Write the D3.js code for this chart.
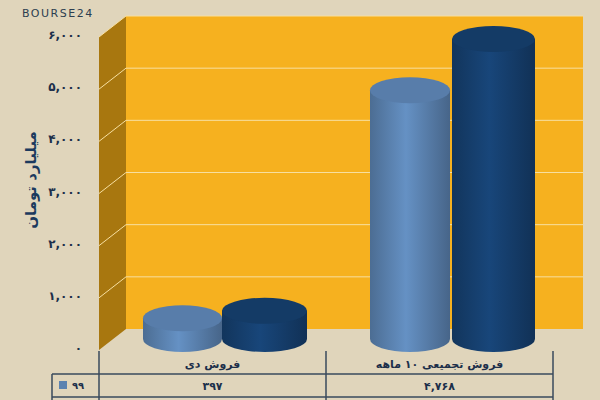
<!DOCTYPE html>
<html><head><meta charset="utf-8">
<script src="https://cdn.jsdelivr.net/npm/d3@7"></script>
<style>body{margin:0;background:#e0d5bb}svg{display:block;font-family:"DejaVu Sans",sans-serif}</style>
</head><body><svg id="c" width="600" height="400"></svg>
<script>
const categories = ["فروش دی", "فروش تجمیعی ۱۰ ماهه"];
const seriesNames = ["۹۹", "۱۴۰۰"];
const values99 = [397, 4768];
const values1400 = [540, 5750];
const yTicks = [0, 1000, 2000, 3000, 4000, 5000, 6000];
const colors = ["#5b82b0", "#163f6e"];

const fa = (n) => String(n).replace(/\d/g, (d) => "۰۱۲۳۴۵۶۷۸۹"[d]);
const fmt = (n) => fa(d3.format(",")(n));

const svg = d3.select("#c");
const dx = 27, dy = -21;                 // depth offset of back wall
const x0 = 99, x1 = 553;
const y = d3.scaleLinear().domain([0, 6000]).range([350, 37]);
const x = d3.scaleBand().domain(categories).range([x0, x1]);

// left wall
svg.append("polygon")
  .attr("points", [[x0, y(0)], [x0, y(6000)], [x0 + dx, y(6000) + dy], [x0 + dx, y(0) + dy]].join(" "))
  .attr("fill", "#a8770f");
// back wall
svg.append("rect").attr("x", x0 + dx).attr("y", y(6000) + dy)
  .attr("width", 583 - x0 - dx).attr("height", y(0) - y(6000)).attr("fill", "#f6b11f");

// gridlines
const g = svg.append("g");
yTicks.slice(1).forEach((t) => {
  g.append("polyline")
    .attr("points", [[x0, y(t)], [x0 + dx, y(t) + dy], [583, y(t) + dy]].join(" "))
    .attr("fill", "none").attr("stroke", "#f7dfa0").attr("stroke-width", 1);
});

// y labels
svg.append("g").selectAll("text").data(yTicks).join("text")
  .attr("x", 82).attr("y", (d) => y(d) + 2).attr("text-anchor", "end")
  .attr("font-size", 12).attr("font-weight", "bold").attr("fill", "#1c2f4a")
  .text(fmt);
svg.append("text").attr("transform", "translate(36,180) rotate(-90)")
  .attr("text-anchor", "middle").attr("font-size", 15).attr("font-weight", "bold")
  .attr("fill", "#1c3a5e").text("میلیارد تومان");
svg.append("text").attr("x", 22).attr("y", 17).attr("font-size", 11)
  .attr("letter-spacing", 1.5).attr("fill", "#2c3e50").text("BOURSE24");

// cylinders
const slots = [[143, 222], [222, 307], [370, 450], [452, 535]];
const cyl = [];
categories.forEach((c, i) => {
  cyl.push({ v: values99[i], s: 0, span: slots[i * 2] });
  cyl.push({ v: values1400[i], s: 1, span: slots[i * 2 + 1] });
});
const defs = svg.append("defs");
colors.forEach((col, i) => {
  const gr = defs.append("linearGradient").attr("id", "g" + i);
  const c = d3.color(col);
  gr.append("stop").attr("offset", "0%").attr("stop-color", c.darker(0.5));
  gr.append("stop").attr("offset", "45%").attr("stop-color", c.brighter(0.3));
  gr.append("stop").attr("offset", "100%").attr("stop-color", c.darker(0.7));
});
const base = y(0) - 11, ry = 13;
cyl.forEach((d) => {
  const [a, b] = d.span, cx = (a + b) / 2, rx = (b - a) / 2;
  const top = base - (y(0) - y(d.v));
  const c = svg.append("g");
  c.append("path")
    .attr("d", `M${a},${top} L${a},${base} A${rx},${ry} 0 0 0 ${b},${base} L${b},${top} Z`)
    .attr("fill", `url(#g${d.s})`);
  c.append("ellipse").attr("cx", cx).attr("cy", top).attr("rx", rx).attr("ry", ry)
    .attr("fill", d3.color(colors[d.s]).darker(d.s ? 0.2 : 0.1));
});

// table
const lineCol = "#3a4a5c";
const t = svg.append("g").attr("stroke", lineCol).attr("stroke-width", 1.5);
[x0, x0 + x.bandwidth(), x1].forEach((xx) =>
  t.append("line").attr("x1", xx).attr("x2", xx).attr("y1", 351).attr("y2", 400));
t.append("line").attr("x1", 52).attr("x2", x1).attr("y1", 374).attr("y2", 374);
t.append("line").attr("x1", 52).attr("x2", x1).attr("y1", 397).attr("y2", 397);
t.append("line").attr("x1", 52).attr("x2", 52).attr("y1", 374).attr("y2", 400);

const mid = (i) => x(categories[i]) + x.bandwidth() / 2;
svg.append("g").selectAll("text").data(categories).join("text")
  .attr("x", (d, i) => mid(i)).attr("y", 368).attr("text-anchor", "middle")
  .attr("font-size", 11).attr("font-weight", "bold").attr("fill", "#1c2f4a").text((d) => d);
svg.append("g").selectAll("text").data(values99).join("text")
  .attr("x", (d, i) => mid(i)).attr("y", 390).attr("text-anchor", "middle")
  .attr("font-size", 11).attr("font-weight", "bold").attr("fill", "#1c2f4a").text(fmt);
svg.append("rect").attr("x", 59).attr("y", 381).attr("width", 8).attr("height", 8).attr("fill", colors[0]);
svg.append("text").attr("x", 72).attr("y", 389).attr("font-size", 10).attr("font-weight", "bold")
  .attr("fill", "#1c2f4a").text(seriesNames[0]);
svg.append("g").selectAll("text").data(values1400).join("text")
  .attr("x", (d, i) => mid(i)).attr("y", 409).attr("text-anchor", "middle")
  .attr("font-size", 11).attr("font-weight", "bold").attr("fill", "#1c2f4a").text(fmt);
</script></body></html>
